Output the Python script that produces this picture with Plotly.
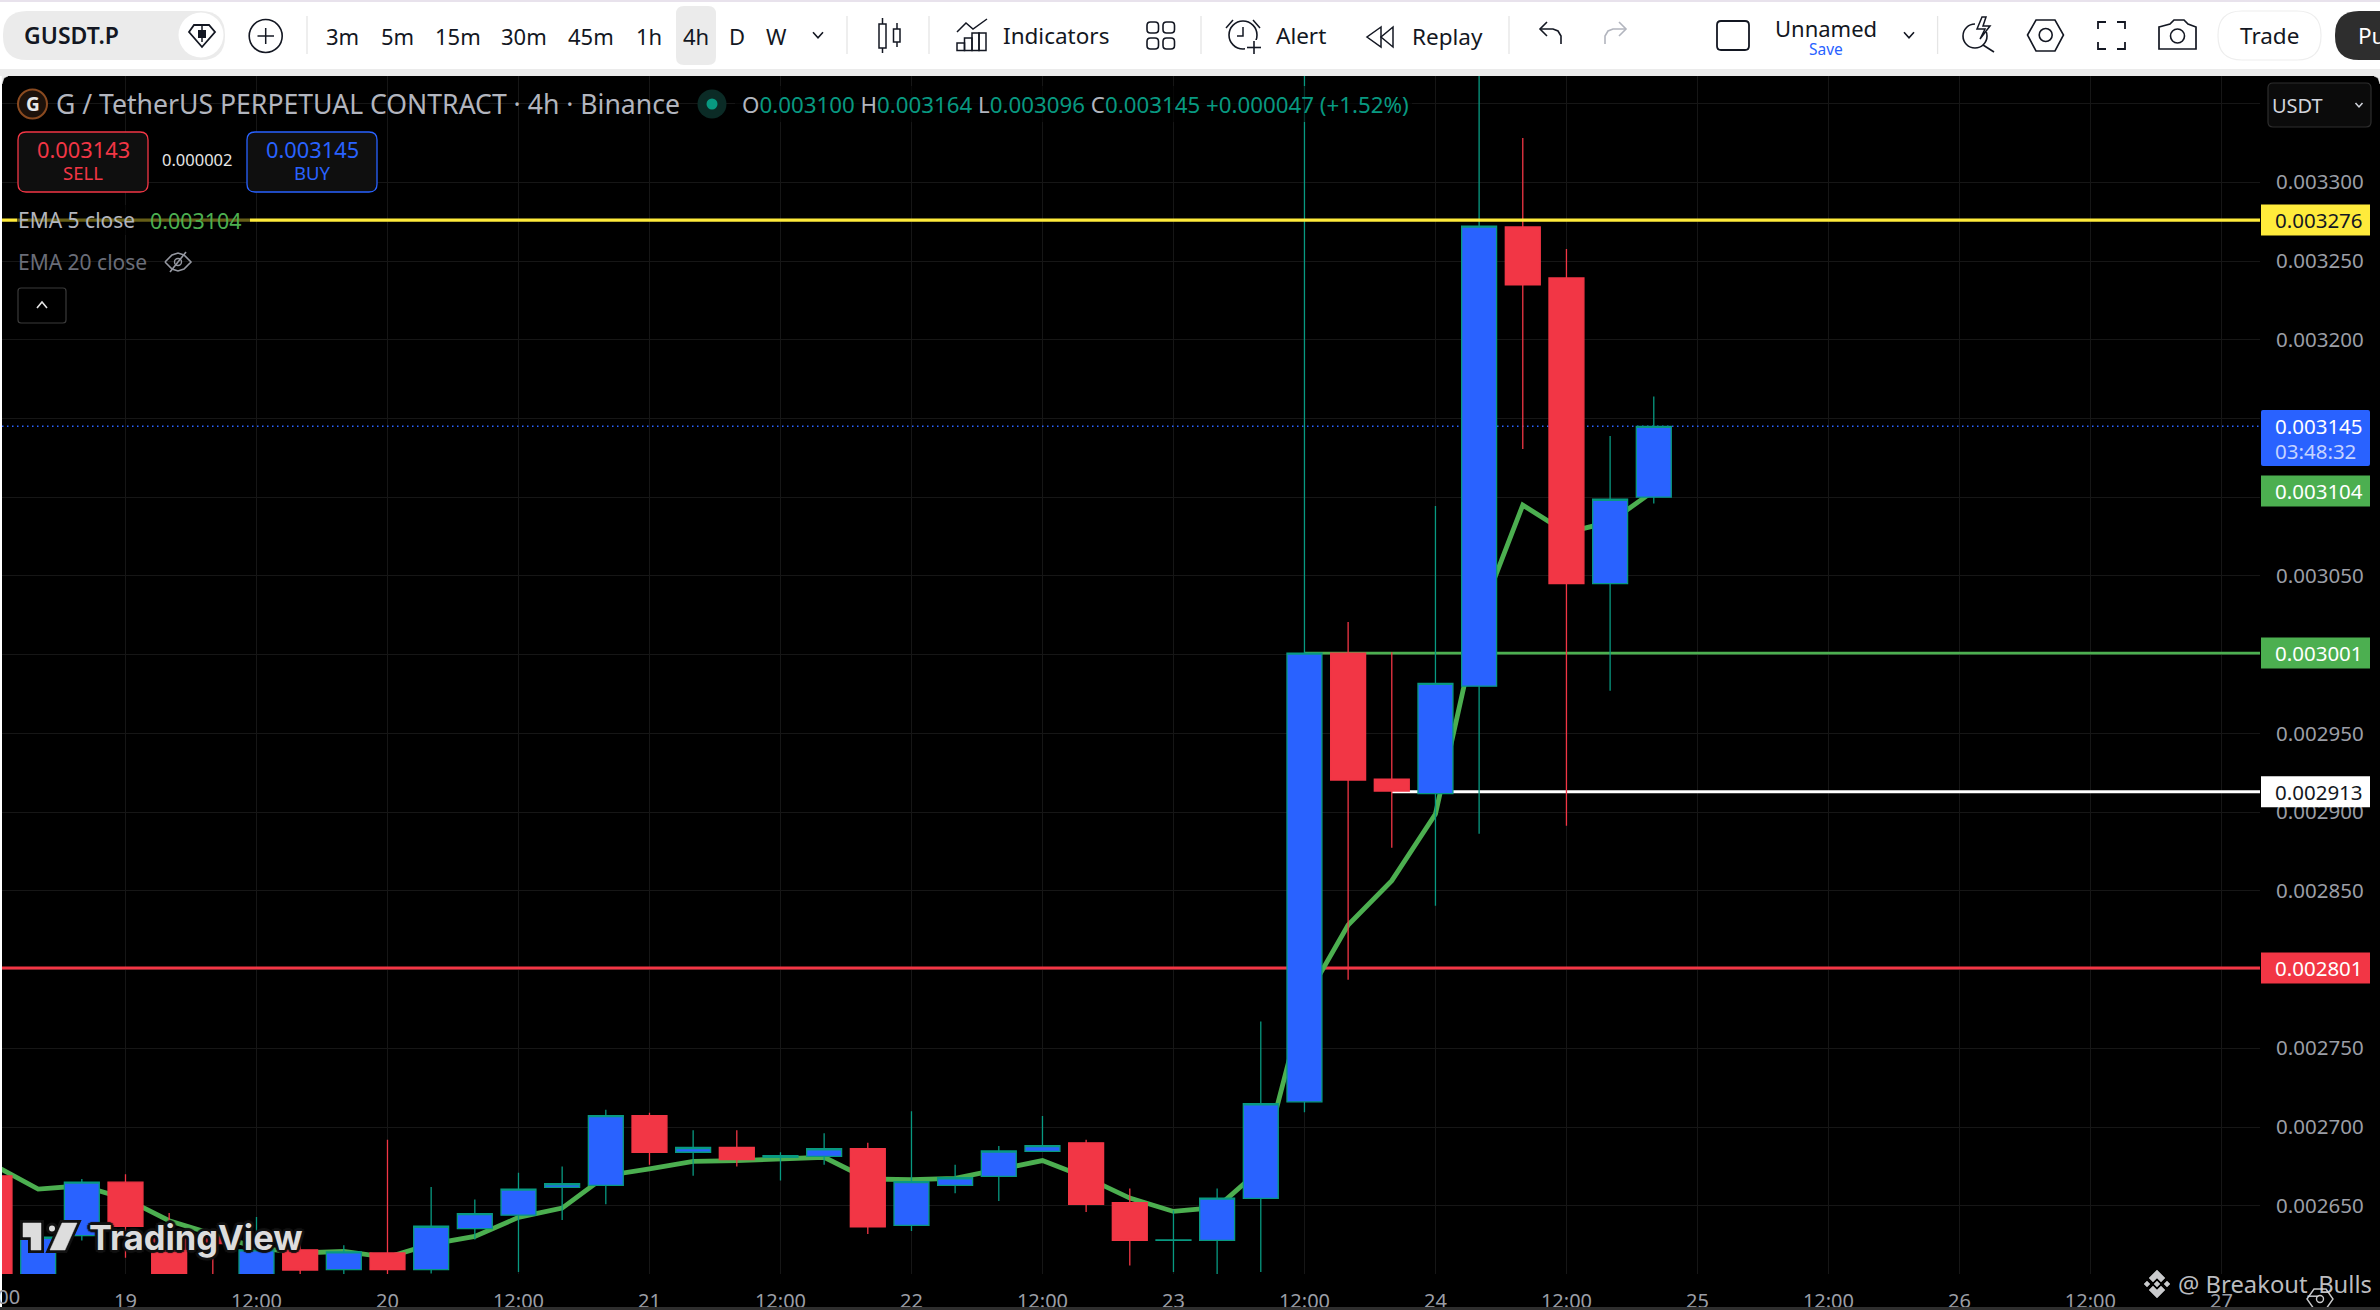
import plotly.graph_objects as go

W, H = 2380, 1310

# ---------- data ----------
candle_times = [
    "2025-05-18 12:00", "2025-05-18 16:00", "2025-05-18 20:00",
    "2025-05-19 00:00", "2025-05-19 04:00", "2025-05-19 08:00", "2025-05-19 12:00", "2025-05-19 16:00", "2025-05-19 20:00",
    "2025-05-20 00:00", "2025-05-20 04:00", "2025-05-20 08:00", "2025-05-20 12:00", "2025-05-20 16:00", "2025-05-20 20:00",
    "2025-05-21 00:00", "2025-05-21 04:00", "2025-05-21 08:00", "2025-05-21 12:00", "2025-05-21 16:00", "2025-05-21 20:00",
    "2025-05-22 00:00", "2025-05-22 04:00", "2025-05-22 08:00", "2025-05-22 12:00", "2025-05-22 16:00", "2025-05-22 20:00",
    "2025-05-23 00:00", "2025-05-23 04:00", "2025-05-23 08:00", "2025-05-23 12:00", "2025-05-23 16:00", "2025-05-23 20:00",
    "2025-05-24 00:00", "2025-05-24 04:00", "2025-05-24 08:00", "2025-05-24 12:00", "2025-05-24 16:00", "2025-05-24 20:00",
]
opens = [
    0.002669, 0.002600, 0.002631, 0.002665, 0.002632, 0.002630, 0.002600, 0.002622, 0.0026095,
    0.002620, 0.0026095, 0.0026355, 0.002644, 0.0026617, 0.002663, 0.0027073, 0.002684, 0.002687,
    0.0026807, 0.0026814, 0.0026862, 0.0026375, 0.002663, 0.0026687, 0.0026846, 0.002690, 0.002652,
    0.002628, 0.002628, 0.0026547, 0.002716, 0.003001, 0.002921, 0.0029117, 0.002980, 0.0032716,
    0.0032392, 0.0030451, 0.003100,
]
highs = [
    0.002672, 0.002635, 0.002667, 0.002670, 0.0026454, 0.002634, 0.0026428, 0.0026295, 0.002625,
    0.002692, 0.002662, 0.002654, 0.002671, 0.002675, 0.002711, 0.002709, 0.002698, 0.002698,
    0.002684, 0.002696, 0.002690, 0.002710, 0.002676, 0.002688, 0.002707, 0.002692, 0.002661,
    0.002647, 0.002661, 0.002767, 0.003400, 0.0030207, 0.0030015, 0.0030944, 0.003400, 0.0033281,
    0.0032576, 0.0031389, 0.003164,
]
lows = [
    0.002600, 0.002600, 0.002628, 0.002617, 0.002600, 0.002600, 0.002600, 0.002600, 0.002606,
    0.002600, 0.002607, 0.0026286, 0.002608, 0.002641, 0.002651, 0.002676, 0.002669, 0.002675,
    0.002666, 0.002676, 0.002632, 0.002634, 0.002658, 0.002653, 0.0026846, 0.002646, 0.002612,
    0.002608, 0.002600, 0.002608, 0.0027094, 0.0027936, 0.0028774, 0.0028406, 0.0028863, 0.0031306,
    0.0028914, 0.0029771, 0.003096,
]
closes = [
    0.002600, 0.002630, 0.002665, 0.002637, 0.002600, 0.002626, 0.002622, 0.0026092, 0.0026207,
    0.0026095, 0.002637, 0.002645, 0.0026606, 0.002664, 0.0027073, 0.002684, 0.002687, 0.0026793,
    0.0026818, 0.0026862, 0.0026366, 0.0026653, 0.0026678, 0.0026848, 0.0026882, 0.0026509, 0.002628,
    0.0026283, 0.0026549, 0.0027148, 0.003001, 0.0029204, 0.0029134, 0.0029818, 0.0032721, 0.0032348,
    0.0030451, 0.0030987, 0.003145,
]
ema5 = [
    0.0026757, 0.0026606, 0.0026627, 0.0026545, 0.0026405, 0.002632, 0.0026235, 0.002620, 0.002621,
    0.0026173, 0.0026256, 0.0026305, 0.0026426, 0.0026485, 0.0026691, 0.0026734, 0.0026782, 0.0026787,
    0.0026795, 0.0026808, 0.002667, 0.0026666, 0.0026674, 0.0026734, 0.0026787, 0.002668, 0.0026549,
    0.0026464, 0.002649, 0.0026734, 0.002780, 0.0028283, 0.0028565, 0.0028988, 0.003023, 0.003095,
    0.0030775, 0.0030843, 0.003104,
]
price_ticks = [0.00335, 0.0033, 0.00325, 0.0032, 0.00315, 0.0031, 0.00305, 0.003, 0.00295, 0.0029,
               0.00285, 0.0028, 0.00275, 0.0027, 0.00265]
price_labels = ["0.003350", "0.003300", "0.003250", "0.003200", "0.003150", "0.003100", "0.003050",
                "0.003000", "0.002950", "0.002900", "0.002850", "0.002800", "0.002750", "0.002700", "0.002650"]
time_ticks = ["2025-05-19 00:00", "2025-05-19 12:00", "2025-05-20 00:00", "2025-05-20 12:00", "2025-05-21 00:00",
              "2025-05-21 12:00", "2025-05-22 00:00", "2025-05-22 12:00", "2025-05-23 00:00", "2025-05-23 12:00",
              "2025-05-24 00:00", "2025-05-24 12:00", "2025-05-25 00:00", "2025-05-25 12:00", "2025-05-26 00:00",
              "2025-05-26 12:00", "2025-05-27 00:00"]
time_labels = ["19", "12:00", "20", "12:00", "21", "12:00", "22", "12:00", "23", "12:00", "24", "12:00",
               "25", "12:00", "26", "12:00", "27"]
level_yellow = 0.003276
level_green = 0.003001
level_white = 0.002913
level_red = 0.002801
last_price = 0.003145
ema_last = 0.003104
x_start = "2025-05-18 12:41:14"
x_end = "2025-05-27 03:32:00"
y_low, y_high = 0.00260667, 0.0033675
green_from = "2025-05-23 12:00"
white_from = "2025-05-23 20:00"
timeframes = ["3m", "5m", "15m", "30m", "45m", "1h", "4h", "D", "W"]
timeframe_px = [342, 397, 458, 524, 591, 649, 695.5, 737, 776]

# ---------- colours ----------
BLUE, TEAL, RED, GREEN, YELLOW = "#2962FF", "#089981", "#F23645", "#4CAF50", "#FFEB3B"
FONT = "Noto Sans"
INK = "#131722"

fig = go.Figure()


def hline(x0, x1, y, color, width, axes=("x", "y"), dash="solid"):
    fig.add_trace(go.Scatter(x=[x0, x1], y=[y, y], mode="lines", hoverinfo="skip", showlegend=False,
                             line=dict(color=color, width=width, dash=dash), xaxis=axes[0], yaxis=axes[1]))


hline(x_start, x_end, last_price, BLUE, 1.5, dash="1.5px,3.5px")
hline(x_start, x_end, level_red, RED, 3)
hline(green_from, x_end, level_green, GREEN, 2.8)
hline(white_from, x_end, level_white, "#FFFFFF", 3)
fig.add_trace(go.Scatter(x=candle_times, y=ema5, mode="lines", hoverinfo="skip", showlegend=False,
                         line=dict(color=GREEN, width=4.8)))
fig.add_trace(go.Candlestick(x=candle_times, open=opens, high=highs, low=lows, close=closes,
                             whiskerwidth=0, hoverinfo="skip", showlegend=False, xaxis="x2", yaxis="y2",
                             increasing=dict(fillcolor=BLUE, line=dict(color=TEAL, width=1.3)),
                             decreasing=dict(fillcolor=RED, line=dict(color=RED, width=1.3))))
hline(x_start, x_end, level_yellow, YELLOW, 3.2, axes=("x3", "y3"))

shapes, notes = [], []


def px(x):
    return x / W


def py(y):
    return 1 - y / H


def rect(x0, y0, x1, y1, fill="rgba(0,0,0,0)", line=None, lw=1, r=0):
    if r:
        d = (f"M{px(x0+r)},{py(y0)} L{px(x1-r)},{py(y0)} Q{px(x1)},{py(y0)} {px(x1)},{py(y0+r)} "
             f"L{px(x1)},{py(y1-r)} Q{px(x1)},{py(y1)} {px(x1-r)},{py(y1)} L{px(x0+r)},{py(y1)} "
             f"Q{px(x0)},{py(y1)} {px(x0)},{py(y1-r)} L{px(x0)},{py(y0+r)} Q{px(x0)},{py(y0)} {px(x0+r)},{py(y0)} Z")
        shapes.append(dict(type="path", path=d, xref="paper", yref="paper", fillcolor=fill,
                           line=dict(color=line or "rgba(0,0,0,0)", width=lw if line else 0)))
    else:
        shapes.append(dict(type="rect", x0=px(x0), x1=px(x1), y0=py(y0), y1=py(y1), xref="paper", yref="paper",
                           fillcolor=fill, line=dict(color=line or "rgba(0,0,0,0)", width=lw if line else 0)))


def poly(points, color=INK, lw=2, closed=False, fill="rgba(0,0,0,0)"):
    d = "M" + " L".join(f"{px(a)},{py(b)}" for a, b in points) + (" Z" if closed else "")
    shapes.append(dict(type="path", path=d, xref="paper", yref="paper", fillcolor=fill,
                       line=dict(color=color, width=lw)))


def circle(cx, cy, r, fill="rgba(0,0,0,0)", line=None, lw=2):
    shapes.append(dict(type="circle", x0=px(cx - r), x1=px(cx + r), y0=py(cy + r), y1=py(cy - r),
                       xref="paper", yref="paper", fillcolor=fill,
                       line=dict(color=line or "rgba(0,0,0,0)", width=lw if line else 0)))


def text(x, y, s, size, color=INK, anchor="center", **font):
    notes.append(dict(x=px(x), y=py(y), xref="paper", yref="paper", text=s, showarrow=False, xanchor=anchor,
                      yanchor="middle", borderpad=0, font=dict(family=FONT, size=size, color=color, **font)))


def chevron(cx, cy, color=INK, s=5):
    poly([(cx - s, cy - s * 0.55), (cx, cy + s * 0.55), (cx + s, cy - s * 0.55)], color, 1.6)


def price_tag(value, fill, color, label=None):
    rect_h = 15.5
    shapes.append(dict(type="rect", xref="paper", yref="y", x0=px(2261), x1=px(2370), y0=-rect_h, y1=rect_h,
                       ysizemode="pixel", yanchor=value, fillcolor=fill, line=dict(width=0)))
    notes.append(dict(x=px(2274), y=value, xref="paper", yref="y", text=label or f"{value:.6f}", showarrow=False,
                      xanchor="left", yanchor="middle", borderpad=0, font=dict(family=FONT, size=20.5, color=color)))


# ---------- chart overlays ----------
rect(735, 86, 1412, 122, "rgba(0,0,0,0.65)")
rect(17, 205, 250, 235, "rgba(0,0,0,0.6)")

# price tags
price_tag(level_yellow, YELLOW, "#131722")
price_tag(ema_last, GREEN, "#FFFFFF")
price_tag(level_green, GREEN, "#FFFFFF")
price_tag(level_white, "#FFFFFF", "#131722")
price_tag(level_red, RED, "#FFFFFF")
rect(2261, 410, 2370, 466, BLUE, r=2)
text(2274, 426, f"{last_price:.6f}", 20.5, "#FFFFFF", "left")
text(2274, 451, "03:48:32", 20.5, "#C5D3FF", "left")

# partly cut tick at left edge
text(-5.5, 1296, "12:00", 20, "#9B9EA6")

# legend
circle(32.5, 104, 14.5, "#1C110A", "#8A4A20", 2)
text(32.5, 103.5, "<b>G</b>", 19, "#E8E8E8")
text(55, 104, "G / TetherUS PERPETUAL CONTRACT · 4h · Binance", 26.6, "#B2B5BE", "left")
circle(712, 104, 14.5, "#0B2B26")
circle(712, 104, 5.5, TEAL)
text(741, 104,
     f'<span style="color:#B2B5BE">O</span>0.003100 <span style="color:#B2B5BE">H</span>0.003164 '
     f'<span style="color:#B2B5BE">L</span>0.003096 <span style="color:#B2B5BE">C</span>0.003145 '
     f'+0.000047 (+1.52%)', 22.3, TEAL, "left")
rect(18, 132, 148, 192, "#0F0F0F", RED, 1.3, 8)
text(83, 149.5, "0.003143", 21.8, RED)
text(83, 173, "SELL", 18.5, RED)
text(197, 160, "0.000002", 16.5, "#E6E6E6")
rect(247, 132, 377, 192, "#0F0F0F", BLUE, 1.3, 8)
text(312, 149.5, "0.003145", 21.8, BLUE)
text(312, 173, "BUY", 18.5, BLUE)
text(17, 220, "EMA 5 close", 21, "#B2B5BE", "left")
text(149, 220, "0.003104", 21.4, GREEN, "left")
text(17, 262, "EMA 20 close", 21, "#6A6D78", "left")
poly([(165, 262), (172, 255), (178, 253), (184, 255), (191, 262), (184, 269), (178, 271), (172, 269), (165, 262)],
     "#9598A1", 1.6)
circle(178, 262, 3.5, None, "#9598A1", 1.4)
poly([(170, 272), (186, 252)], "#9598A1", 1.6)
rect(18, 288, 66, 323, "#000000", "#3A3A3A", 1.2, 3)
poly([(37, 308), (42, 302), (47, 308)], "#E6E6E6", 1.6)
rect(2268, 83, 2371, 127, "#0B0B0B", "#2E2E2E", 1.2, 5)
text(2297, 105.5, "USDT", 20, "#D1D4DC")
chevron(2359, 105, "#D1D4DC", 3.5)

# TradingView logo
dark = "#111111"
LG = "#DDDDDD"
poly([(23, 1223), (41, 1223), (41, 1250), (31, 1250), (31, 1237), (23, 1237)], dark, 6, True, LG)
poly([(62, 1223), (77, 1223), (65, 1250), (50, 1250)], dark, 6, True, LG)
circle(52, 1228.5, 4.5, LG, dark, 3)
poly([(23, 1223), (41, 1223), (41, 1250), (31, 1250), (31, 1237), (23, 1237)], LG, 0.5, True, LG)
poly([(62, 1223), (77, 1223), (65, 1250), (50, 1250)], LG, 0.5, True, LG)
notes.append(dict(x=px(88), y=py(1237), xref="paper", yref="paper", text="<b>TradingView</b>", showarrow=False,
                  xanchor="left", yanchor="middle", borderpad=0,
                  font=dict(family="Inter", size=34.5, color=LG,
                            shadow="2px 2px 1px #111, -2px -2px 1px #111, 2px -2px 1px #111, -2px 2px 1px #111, 0 3px 1px #111, 3px 0 1px #111, 0 -3px 1px #111, -3px 0 1px #111")))

# watermark and settings icon
WM = "#C9CACC"
poly([(2320 - 13, 1299), (2320 - 6, 1289), (2320 + 6, 1289), (2320 + 13, 1299), (2320 + 6, 1309), (2320 - 6, 1309)],
     "#C9CACC", 1.4, True)
circle(2320, 1299, 3.5, None, "#C9CACC", 1.4)
poly([(2157, 1270), (2165, 1278), (2161, 1282), (2157, 1278), (2153, 1282), (2149, 1278)], WM, 0.5, True, WM)
poly([(2157, 1298), (2165, 1290), (2161, 1286), (2157, 1290), (2153, 1286), (2149, 1290)], WM, 0.5, True, WM)
poly([(2157, 1281), (2160, 1284), (2157, 1287), (2154, 1284)], WM, 0.5, True, WM)
poly([(2147, 1281), (2150, 1284), (2147, 1287), (2144, 1284)], WM, 0.5, True, WM)
poly([(2167, 1281), (2170, 1284), (2167, 1287), (2164, 1284)], WM, 0.5, True, WM)
text(2177, 1284, "@ Breakout_Bulls", 23.8, "rgba(215,216,220,0.88)", "left")

# ---------- page frame + toolbar ----------
rect(0, 0, 2, H, "#FFFFFF")
rect(0, 1307, W, H, "#2E2E2E")
rect(0, 0, W, 2, "#E8E2EC")
rect(0, 2, W, 69, "#FFFFFF")
rect(0, 69, W, 76, "#EBEBEB")
poly([(2, 76), (8, 76), (4, 78), (2, 84)], "#EBEBEB", 0.5, True, "#EBEBEB")
poly([(2380, 76), (2374, 76), (2378, 78), (2380, 84)], "#EBEBEB", 0.5, True, "#EBEBEB")

rect(3, 11, 225, 60, "#EBEBEB", r=24)
text(23, 35, "GUSDT.P", 23, INK, "left", weight=600)
circle(201, 35, 22.5, "#FFFFFF")
poly([(189, 32), (194, 25), (209, 25), (215, 32), (202, 47)], INK, 1.8, True)
rect(198, 30, 206, 38, INK)
poly([(202, 26), (202, 42)], INK, 1.5)
circle(265.7, 36, 16.5, "#FFFFFF", INK, 1.6)
poly([(257.5, 36), (274, 36)], INK, 1.5)
poly([(265.7, 28), (265.7, 44)], INK, 1.5)

for sep in (307, 847, 929, 1201, 1509, 1937.6):
    poly([(sep, 16), (sep, 54)], "#E5E5E5", 1.3)

rect(676, 6, 716, 65, "#EBEBEB", r=8)
for label, cx in zip(timeframes, timeframe_px):
    text(cx, 35.5, label, 22, INK)
chevron(818, 35)

# candle icon
rect(879, 24, 886, 48, "rgba(0,0,0,0)", INK, 1.5)
poly([(882.5, 18), (882.5, 24)], INK, 1.5)
poly([(882.5, 48), (882.5, 53)], INK, 1.5)
rect(893.5, 29, 900, 42, "rgba(0,0,0,0)", INK, 1.5)
poly([(897, 23), (897, 29)], INK, 1.5)
poly([(897, 42), (897, 47)], INK, 1.5)
# indicators icon
poly([(957, 32), (966, 23), (973, 29), (987, 19)], INK, 1.5)
rect(957, 43, 964.5, 50.5, "rgba(0,0,0,0)", INK, 1.5)
rect(964.5, 38, 972, 50.5, "rgba(0,0,0,0)", INK, 1.5)
rect(972, 33, 979, 50.5, "rgba(0,0,0,0)", INK, 1.5)
rect(979, 33, 986, 50.5, "rgba(0,0,0,0)", INK, 1.5)
text(1056, 35.5, "Indicators", 22.5, INK)
# layouts icon
for a, b in ((1147, 22), (1163, 22), (1147, 38), (1163, 38)):
    rect(a, b, a + 11.5, b + 11, "rgba(0,0,0,0)", INK, 1.6, 3.5)
# alert
circle(1243, 35, 14, "#FFFFFF", INK, 1.6)
poly([(1243, 27), (1243, 36), (1237, 36)], INK, 1.5)
poly([(1226, 28), (1233, 20)], INK, 1.5)
poly([(1260, 28), (1253, 20)], INK, 1.5)
rect(1245, 40, 1262, 54, "#FFFFFF")
poly([(1254, 41), (1254, 54)], INK, 1.6)
poly([(1247, 47.5), (1261, 47.5)], INK, 1.6)
text(1301.5, 35.5, "Alert", 22.5, INK)
# replay
poly([(1381, 27), (1367, 37), (1381, 47)], INK, 1.5, True)
poly([(1393, 27), (1381, 37), (1393, 47)], INK, 1.5, True)
text(1448, 36, "Replay", 22.5, INK)
# undo / redo
for pts, col in ((((1561, 44), (1561, 36), (1558, 31), (1553, 29), (1541, 29)), INK),
                 (((1605, 44), (1605, 36), (1608, 31), (1613, 29), (1625, 29)), "#B2B5BE")):
    poly(list(pts), col, 1.6)
poly([(1547, 22), (1540, 29), (1547, 36)], INK, 1.6)
poly([(1619, 22), (1626, 29), (1619, 36)], "#B2B5BE", 1.6)
# layout
rect(1717, 21, 1749, 50, "#FFFFFF", INK, 1.8, 4)
text(1826, 28, "Unnamed", 22, INK)
text(1826, 49, "Save", 15.5, BLUE)
chevron(1909, 35)
# lightning search
circle(1975, 36, 12, "#FFFFFF", INK, 1.6)
poly([(1983, 45), (1994, 52)], INK, 1.6)
rect(1975, 15, 1991, 32, "#FFFFFF")
poly([(1982, 17), (1977, 29), (1985, 29), (1980, 39), (1990, 26), (1983, 26), (1986, 17)], INK, 1.5, True, "#FFFFFF")
# hexagon
poly([(2027.5, 35), (2036, 20), (2055, 20), (2063.5, 35), (2055, 51), (2036, 51)], INK, 1.6, True)
circle(2045.7, 35, 6.5, "#FFFFFF", INK, 1.6)
# fullscreen
for pts in ([(2098, 29), (2098, 22), (2106, 22)], [(2117, 22), (2125, 22), (2125, 29)],
             [(2125, 42), (2125, 49), (2117, 49)], [(2106, 49), (2098, 49), (2098, 42)]):
    poly(pts, INK, 1.8)
# camera
poly([(2159, 27), (2170, 24), (2174, 20), (2184, 20), (2188, 24), (2196, 27), (2196, 49), (2159, 49)], INK, 1.7, True)
circle(2177.5, 36, 7, "#FFFFFF", INK, 1.6)
# trade / publish
rect(2218, 11, 2321, 60, "#FFFFFF", "#EEEEEE", 1.2, 24)
text(2269, 35.5, "Trade", 22.5, INK)
rect(2335, 11, 2420, 60, "#2E2E2E", r=24)
text(2357, 35.5, "Pu", 22.5, "#FFFFFF", "left")

# ---------- layout ----------
hidden_axis = dict(visible=False, showgrid=False, zeroline=False, fixedrange=True, automargin=False)
fig.update_layout(
    template=None,
    width=W, height=H, autosize=False, margin=dict(l=0, r=0, t=0, b=0, pad=0, autoexpand=False),
    paper_bgcolor="#000000", plot_bgcolor="#000000", showlegend=False, hovermode=False,
    font=dict(family=FONT), boxgap=0.2, boxgroupgap=0, boxmode="overlay",
    shapes=shapes, annotations=notes,
    xaxis=dict(domain=[2 / W, 2260 / W], type="date", range=[x_start, x_end], tickmode="array", automargin=False,
               tickvals=time_ticks, ticktext=time_labels, ticks="outside", ticklen=9, tickcolor="rgba(0,0,0,0)",
               tickfont=dict(family=FONT, size=20, color="#9B9EA6"), showgrid=True, gridcolor="#161616", gridwidth=1,
               showline=False, zeroline=False, rangeslider=dict(visible=False), fixedrange=True),
    yaxis=dict(domain=[1 - 1274 / H, 1 - 76 / H], side="right", range=[y_low, y_high], tickmode="array", automargin=False,
               tickvals=price_ticks, ticktext=price_labels, ticks="outside", ticklen=11, tickcolor="rgba(0,0,0,0)",
               tickfont=dict(family=FONT, size=20.5, color="#9B9EA6"), showgrid=True, gridcolor="#161616", gridwidth=1,
               showline=False, zeroline=False, fixedrange=True),
    xaxis2=dict(overlaying="x", type="date", range=[x_start, x_end], rangeslider=dict(visible=False), **hidden_axis),
    yaxis2=dict(overlaying="y", side="right", range=[y_low, y_high], **hidden_axis),
    xaxis3=dict(overlaying="x", type="date", range=[x_start, x_end], **hidden_axis),
    yaxis3=dict(overlaying="y", side="right", range=[y_low, y_high], **hidden_axis),
)

fig.write_html("out.html", config=dict(displayModeBar=False, responsive=False),
               post_script="document.body.style.margin='0';document.body.style.overflow='hidden';")
